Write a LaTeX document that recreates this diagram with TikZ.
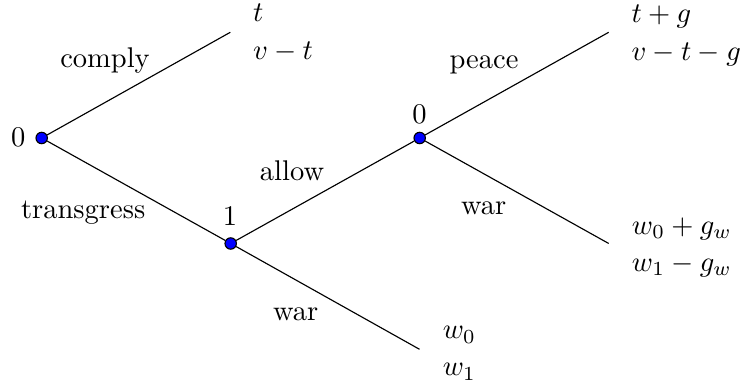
\documentclass[tikz,border=0pt]{standalone}
\begin{document}
\begin{tikzpicture}[x=0.3509pt,y=-0.3509pt,
  dot/.style={circle,draw=black,fill=blue,inner sep=0pt,minimum size=4pt,line width=0.4pt},
  lbl/.style={inner sep=0pt,anchor=base},
  pay/.style={inner sep=0pt,anchor=base west},
  branch/.style={line width=0.4pt}]
\useasboundingbox (0,0) rectangle (744,385);
% decision nodes
\node[dot] (r) at (41.7,138) {};
\node[dot] (a) at (230.7,243.5) {};
\node[dot] (b) at (419.7,138) {};
% terminal points
\coordinate (tc) at (230.3,32.3);
\coordinate (tp) at (608.7,32.3);
\coordinate (tw) at (608.7,243.5);
\coordinate (tl) at (419.5,349.3);
% branches
\draw[branch] (r) -- (tc);
\draw[branch] (r) -- (a);
\draw[branch] (a) -- (b);
\draw[branch] (a) -- (tl);
\draw[branch] (b) -- (tp);
\draw[branch] (b) -- (tw);
% player labels
\node[lbl] (pr) at (18.3,146.5) {0};
\node[lbl] (pa) at (230,226) {1};
\node[lbl] (pb) at (419.5,123.8) {0};
% action labels
\node[lbl] (lcomply) at (105,67.7) {comply};
\node[lbl] (ltrans) at (83.2,218.7) {transgress};
\node[lbl] (lallow) at (292,180.7) {allow};
\node[lbl] (lpeace) at (484,68.6) {peace};
\node[lbl] (lwarb) at (483.7,214.7) {war};
\node[lbl] (lwara) at (295.7,321) {war};
% payoffs
\node[pay] (pc1) at (252.5,21.7) {$t$};
\node[pay] (pc2) at (252.5,59.8) {$v-t$};
\node[pay] (pp1) at (631,22.3) {$t+g$};
\node[pay] (pp2) at (631,60.3) {$v-t-g$};
\node[pay] (pw1) at (631.3,234.5) {$w_0+g_w$};
\node[pay] (pw2) at (631.3,271.5) {$w_1-g_w$};
\node[pay] (pl1) at (442.2,338.9) {$w_0$};
\node[pay] (pl2) at (442.2,375.8) {$w_1$};
\end{tikzpicture}
\end{document}
